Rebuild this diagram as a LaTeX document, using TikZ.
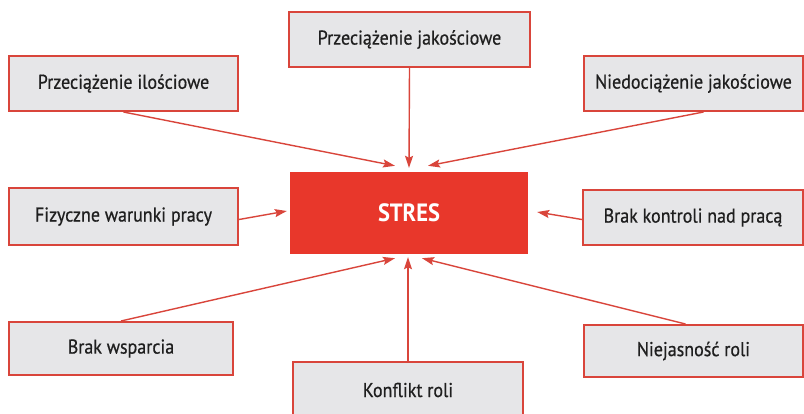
\documentclass[tikz,border=0pt]{standalone}
\usepackage{fontspec}
\setmainfont{PT Sans}[FakeStretch=0.9]
\newfontfamily\causefont{PT Sans}[FakeStretch=0.9, FakeBold=0.6]
\usetikzlibrary{arrows.meta}
\definecolor{boxred}{HTML}{D9453B}
\definecolor{boxgray}{HTML}{E6E6E8}
\definecolor{stresred}{HTML}{E8372B}
\tikzset{
  cause/.style={draw=boxred, line width=2pt, fill=boxgray, inner sep=0pt,
    font=\causefont\fontsize{20}{22}\selectfont, text=black!88},
  core/.style={fill=stresred, inner sep=0pt, text=white,
    font=\fontsize{25}{27}\selectfont\bfseries},
  arr/.style={draw=boxred, line width=1.4pt,
    -{Stealth[length=12pt,width=8pt,inset=2pt]}}
}
\begin{document}
\begin{tikzpicture}[x=1pt,y=-1pt]
\useasboundingbox (0,0) rectangle (804,413);
\fill[white] (0,0) rectangle (804,413);

% central box
\node[core, minimum width=238pt, minimum height=82pt] (st) at (409,213) {STRES};

% surrounding causes
\node[cause, minimum width=241pt, minimum height=55pt] (pj) at (409.5,39.5) {Przeciążenie jakościowe};
\node[cause, minimum width=229pt, minimum height=55pt] (pi) at (123.5,83.5) {Przeciążenie ilościowe};
\node[cause, minimum width=219pt, minimum height=55pt] (nj) at (693.5,83.5) {Niedociążenie jakościowe};
\node[cause, minimum width=229pt, minimum height=57pt] (fw) at (123.5,216.5) {Fizyczne warunki pracy};
\node[cause, minimum width=220pt, minimum height=55pt] (bk) at (693,217.5) {Brak kontroli nad pracą};
\node[cause, minimum width=224pt, minimum height=53pt] (bw) at (121,348.5) {Brak wsparcia};
\node[cause, minimum width=230pt, minimum height=56pt] (kr) at (408,390) {Konflikt roli};
\node[cause, minimum width=219pt, minimum height=52pt] (nr) at (693.5,351) {Niejasność roli};

% arrows into the centre
\draw[arr] (pi.south) -- ([shift={(-14,-6)}]st.north);
\draw[arr] (pj.south) -- ([shift={(0,-4)}]st.north);
\draw[arr] ([xshift=10pt]nj.south) -- ([shift={(19,-6)}]st.north);
\draw[arr] ([yshift=-3pt]fw.east) -- ([shift={(-3,-2)}]st.west);
\draw[arr] ([yshift=-2pt]bk.west) -- ([shift={(9,-1)}]st.east);
\draw[arr] (bw.north) -- ([shift={(-14,4)}]st.south);
\draw[arr] (kr.north) -- ([shift={(-1,3)}]st.south);
\draw[arr] ([xshift=-8pt]nr.north) -- ([shift={(13,4)}]st.south);
\end{tikzpicture}
\end{document}
